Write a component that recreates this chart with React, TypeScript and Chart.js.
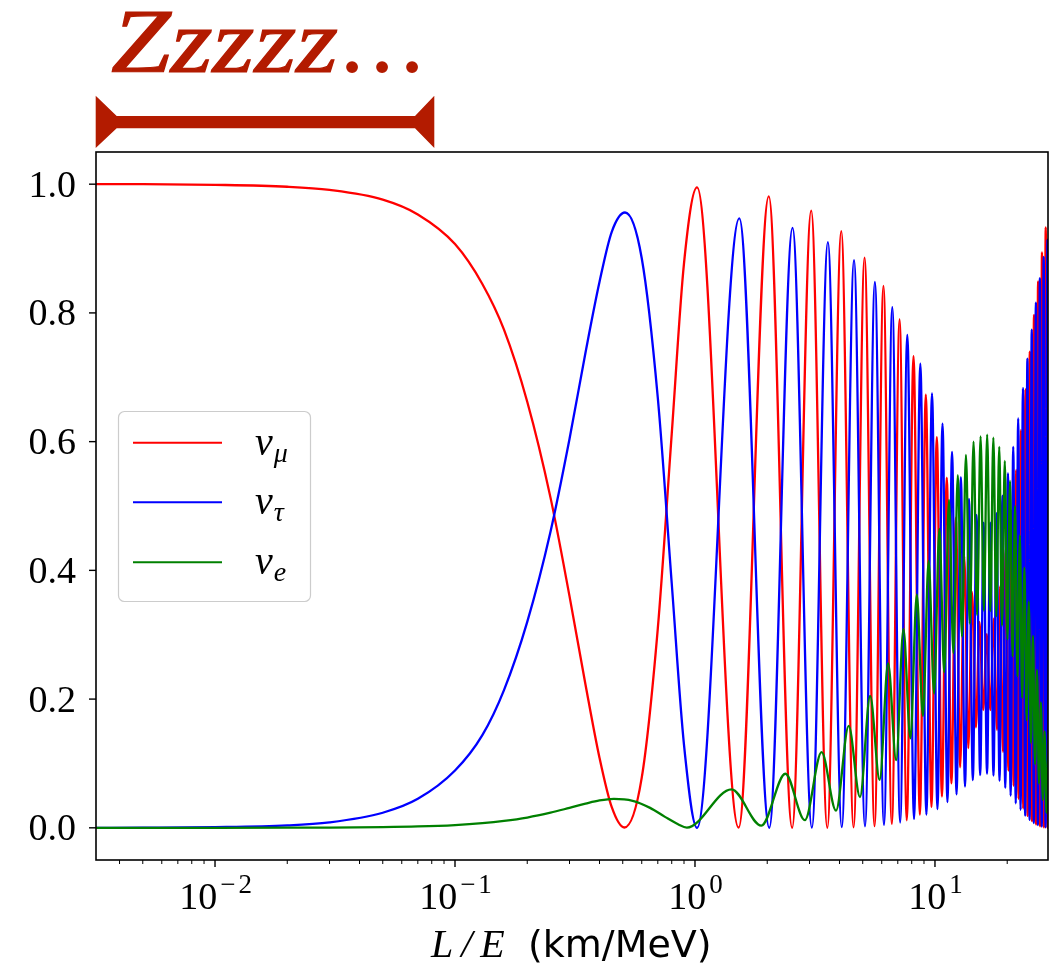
import React, { useEffect, useRef } from "react";
import { Chart, registerables } from "chart.js";

Chart.register(...registerables);

// ---------- axis ranges ----------
const X_MIN = 0.003192;
const X_MAX = 29.58;
const Y_MIN = -0.05;
const Y_MAX = 1.05;

// ---------- nu_mu (red) ----------
const numuX = [
  0.00316, 0.005, 0.01, 0.02, 0.03, 0.05, 0.07, 0.1, 0.13, 0.16, 0.2, 0.25, 0.3, 0.35, 0.4, 0.45, 0.508, 0.6, 0.7, 0.8, 0.9,
  1.02, 1.52, 2.03, 2.54, 3.05, 3.56, 4.07, 4.58, 5.09, 5.6,
  6.1, 6.61, 7.12, 7.63, 8.14, 8.65, 9.16, 9.67, 10.18, 10.69,
  11.2, 11.71, 12.22, 12.74, 13.25, 13.77, 14.28, 14.81, 15.33, 15.89,
  16.44, 17.01, 17.59, 18.14, 18.68, 19.2, 19.73, 20.24, 20.76, 21.27,
  21.79, 22.3, 22.81, 23.32, 23.83, 24.34, 24.85, 25.36, 25.87, 26.38,
  26.9, 27.41, 27.92, 28.43, 28.94, 29.43, 29.94, 30.43, 30.95, 31.44, 31.96,
];
const numuY = [
  1.0, 1.0, 0.999, 0.996, 0.991, 0.976, 0.953, 0.907, 0.845, 0.774, 0.662, 0.513, 0.36, 0.222, 0.109, 0.032, 0.0005, 0.078, 0.31, 0.612, 0.877,
  0.995, 0.0003, 0.981, 0.0001, 0.959, 0.0001, 0.927, 0.0008, 0.886, 0.0026,
  0.842, 0.006, 0.79, 0.0117, 0.733, 0.0204, 0.673, 0.0324, 0.607, 0.0486,
  0.544, 0.069, 0.482, 0.0941, 0.422, 0.1237, 0.366, 0.156, 0.32, 0.183,
  0.301, 0.183, 0.325, 0.152, 0.375, 0.118, 0.433, 0.089, 0.493, 0.0652,
  0.556, 0.0452, 0.618, 0.0299, 0.681, 0.0185, 0.74, 0.0104, 0.797, 0.0052,
  0.849, 0.0021, 0.894, 0.0006, 0.933, 0.0001, 0.962, 0.0001, 0.984, 0.0003, 0.993,
];

// ---------- nu_tau (blue) ----------
const nutauX = [
  0.00316, 0.005, 0.01, 0.02, 0.03, 0.05, 0.07, 0.1, 0.13, 0.16, 0.2, 0.25, 0.3, 0.35, 0.4, 0.45, 0.511, 0.6, 0.7, 0.8, 0.9,
  1.02, 1.53, 2.04, 2.55, 3.07, 3.58, 4.09, 4.6, 5.11, 5.62,
  6.13, 6.64, 7.16, 7.67, 8.18, 8.69, 9.21, 9.72, 10.24, 10.75,
  11.27, 11.78, 12.3, 12.82, 13.34, 13.86, 14.38, 14.9, 15.43, 15.95,
  16.48, 17.0, 17.53, 18.06, 18.58, 19.11, 19.63, 20.15, 20.67, 21.19,
  21.71, 22.22, 22.74, 23.26, 23.77, 24.28, 24.8, 25.31, 25.82, 26.34,
  26.85, 27.36, 27.87, 28.38, 28.9, 29.41, 29.92, 30.42, 30.94, 31.44, 31.96,
];
const nutauY = [
  0.0, 0.0002, 0.001, 0.0037, 0.0085, 0.0234, 0.045, 0.089, 0.144, 0.214, 0.32, 0.46, 0.604, 0.739, 0.848, 0.926, 0.956, 0.885, 0.668, 0.38, 0.129,
  0.0, 0.947, 0.0001, 0.932, 0.0003, 0.91, 0.001, 0.882, 0.0023, 0.848,
  0.0046, 0.809, 0.0083, 0.766, 0.0135, 0.721, 0.0205, 0.675, 0.029, 0.628,
  0.04, 0.584, 0.052, 0.545, 0.064, 0.511, 0.074, 0.486, 0.082, 0.474,
  0.084, 0.474, 0.081, 0.489, 0.073, 0.516, 0.062, 0.551, 0.05, 0.592,
  0.038, 0.636, 0.028, 0.683, 0.019, 0.729, 0.0124, 0.774, 0.0075, 0.816,
  0.0042, 0.854, 0.002, 0.887, 0.0008, 0.914, 0.0002, 0.936, 0.0001, 0.95, 0.0,
];

// ---------- nu_e (green) ----------
const nueX = [
  0.00316, 0.01, 0.02, 0.03, 0.05, 0.07, 0.1, 0.13, 0.16, 0.2, 0.25, 0.3, 0.35, 0.4, 0.459, 0.55, 0.65, 0.75, 0.85, 0.925,
  1.42, 1.89, 2.38, 2.87, 3.37, 3.87, 4.37, 4.87, 5.37, 5.88,
  6.38, 6.89, 7.39, 7.9, 8.4, 8.91, 9.41, 9.92, 10.43, 10.93,
  11.44, 11.94, 12.45, 12.96, 13.46, 13.97, 14.48, 14.98, 15.49, 15.99,
  16.5, 17.01, 17.51, 18.02, 18.53, 19.03, 19.54, 20.05, 20.55, 21.06,
  21.56, 22.07, 22.58, 23.08, 23.59, 24.09, 24.6, 25.11, 25.61, 26.12,
  26.62, 27.12, 27.63, 28.13, 28.63, 29.13, 29.63, 30.13, 30.63, 31.12, 31.62,
];
const nueY = [
  0.0, 0.00004, 0.00017, 0.0004, 0.0011, 0.0021, 0.0043, 0.0072, 0.0107, 0.016, 0.0235, 0.031, 0.0375, 0.0425, 0.045, 0.042, 0.031, 0.017, 0.0055, 0.0003,
  0.0598, 0.0034, 0.084, 0.0119, 0.1175, 0.0268, 0.1584, 0.0479, 0.2048, 0.0745,
  0.2556, 0.1053, 0.3086, 0.139, 0.3622, 0.174, 0.4146, 0.2087, 0.4645, 0.2417,
  0.5093, 0.2716, 0.548, 0.2972, 0.5793, 0.3173, 0.6, 0.3307, 0.608, 0.3374,
  0.611, 0.3366, 0.606, 0.3286, 0.592, 0.3141, 0.57, 0.2928, 0.539, 0.2663,
  0.5, 0.2355, 0.4545, 0.2019, 0.4044, 0.167, 0.3517, 0.1319, 0.298, 0.0987,
  0.2452, 0.0688, 0.195, 0.0432, 0.1498, 0.0234, 0.1102, 0.0105, 0.0768, 0.0021, 0.054,
];

// ---------- labels / ticks ----------
const seriesSubscripts = ["μ", "τ", "e"];
const seriesColors = ["#ff0000", "#0000ff", "#008000"];
const yTickValues = [0, 0.2, 0.4, 0.6, 0.8, 1.0];
const yTickLabels = ["0.0", "0.2", "0.4", "0.6", "0.8", "1.0"];
const xMajorValues = [0.01, 0.1, 1, 10];
const xMajorExponents = ["−2", "−1", "0", "1"];
const xMinorValues = [
  0.004, 0.005, 0.006, 0.007, 0.008, 0.009,
  0.02, 0.03, 0.04, 0.05, 0.06, 0.07, 0.08, 0.09,
  0.2, 0.3, 0.4, 0.5, 0.6, 0.7, 0.8, 0.9,
  2, 3, 4, 5, 6, 7, 8, 9, 20,
];
const xTitleVar = "L/E";
const xTitleUnit = "(km/MeV)";
const annotationWord = "Zzzzz";
const annotationDots = "...";
const ANNOT_COLOR = "#b31b00";
const LINE_W = 2.3;

const toPoints = (xs: number[], ys: number[]) => xs.map((x, i) => ({ x, y: ys[i] }));

const SERIF = "'Liberation Serif', 'DejaVu Serif', serif";

const decorPlugin = {
  id: "decor",
  afterDraw(chart: any) {
    const ctx: CanvasRenderingContext2D = chart.ctx;
    const { left, right, top, bottom } = chart.chartArea;
    const xs = chart.scales.x;
    const ys = chart.scales.y;
    ctx.save();

    // spines
    ctx.strokeStyle = "#000";
    ctx.lineWidth = 1.6;
    ctx.strokeRect(left, top, right - left, bottom - top);

    // y ticks + labels
    ctx.fillStyle = "#000";
    ctx.lineWidth = 1.4;
    ctx.font = `38px ${SERIF}`;
    ctx.textAlign = "right";
    ctx.textBaseline = "alphabetic";
    yTickValues.forEach((v, i) => {
      const py = ys.getPixelForValue(v);
      ctx.beginPath();
      ctx.moveTo(left - 7, py);
      ctx.lineTo(left, py);
      ctx.stroke();
      ctx.fillText(yTickLabels[i], left - 20, py + 12.5);
    });

    // x minor ticks
    ctx.lineWidth = 1.0;
    xMinorValues.forEach((v) => {
      const px = xs.getPixelForValue(v);
      if (px < left - 0.5 || px > right + 0.5) return;
      ctx.beginPath();
      ctx.moveTo(px, bottom);
      ctx.lineTo(px, bottom + 4);
      ctx.stroke();
    });

    // x major ticks + labels
    ctx.lineWidth = 1.4;
    ctx.textAlign = "left";
    xMajorValues.forEach((v, i) => {
      const px = xs.getPixelForValue(v);
      ctx.beginPath();
      ctx.moveTo(px, bottom);
      ctx.lineTo(px, bottom + 7);
      ctx.stroke();
      ctx.font = `38px ${SERIF}`;
      const wb = ctx.measureText("10").width;
      ctx.font = `27px ${SERIF}`;
      (ctx as any).letterSpacing = "3px";
      const we = ctx.measureText(xMajorExponents[i]).width;
      const total = wb + 3 + we;
      const x0 = px - total / 2 + 2;
      ctx.fillText(xMajorExponents[i], x0 + wb + 3, 893);
      (ctx as any).letterSpacing = "0px";
      ctx.font = `38px ${SERIF}`;
      ctx.fillText("10", x0, 909);
    });

    // x title
    ctx.font = `italic 40px ${SERIF}`;
    (ctx as any).letterSpacing = "8px";
    ctx.fillText(xTitleVar, 431, 957);
    (ctx as any).letterSpacing = "0px";
    ctx.font = "38px 'DejaVu Sans', sans-serif";
    ctx.fillText(xTitleUnit, 528, 957);

    // legend
    const lx = 118.5, ly = 411.5, lw = 192, lh = 190, r = 6;
    ctx.beginPath();
    ctx.moveTo(lx + r, ly);
    ctx.lineTo(lx + lw - r, ly);
    ctx.arcTo(lx + lw, ly, lx + lw, ly + r, r);
    ctx.lineTo(lx + lw, ly + lh - r);
    ctx.arcTo(lx + lw, ly + lh, lx + lw - r, ly + lh, r);
    ctx.lineTo(lx + r, ly + lh);
    ctx.arcTo(lx, ly + lh, lx, ly + lh - r, r);
    ctx.lineTo(lx, ly + r);
    ctx.arcTo(lx, ly, lx + r, ly, r);
    ctx.closePath();
    ctx.fillStyle = "rgba(255,255,255,0.8)";
    ctx.fill();
    ctx.strokeStyle = "#cccccc";
    ctx.lineWidth = 1.2;
    ctx.stroke();
    const rowY = [442.7, 502.3, 562.3];
    seriesSubscripts.forEach((sub, i) => {
      const y = rowY[i];
      ctx.strokeStyle = seriesColors[i];
      ctx.lineWidth = 2;
      ctx.beginPath();
      ctx.moveTo(133, y);
      ctx.lineTo(222, y);
      ctx.stroke();
      ctx.fillStyle = "#000";
      ctx.font = `italic 40px ${SERIF}`;
      ctx.fillText("ν", 255, y + 12);
      const wn = ctx.measureText("ν").width;
      ctx.font = `italic 28px ${SERIF}`;
      ctx.fillText(sub, 255 + wn + 1, y + 19);
    });

    // annotation "Zzzzz..." and bracket
    ctx.fillStyle = ANNOT_COLOR;
    ctx.strokeStyle = ANNOT_COLOR;
    ctx.lineWidth = 1.2;
    ctx.font = `italic 92px ${SERIF}`;
    const wz = ctx.measureText(annotationWord).width;
    ctx.save();
    ctx.translate(111, 72);
    ctx.scale(227 / wz, 1);
    ctx.fillText(annotationWord, 0, 0);
    ctx.strokeText(annotationWord, 0, 0);
    ctx.restore();
    ctx.font = `italic 100px ${SERIF}`;
    (ctx as any).letterSpacing = "5px";
    ctx.fillText(annotationDots, 342, 72);
    (ctx as any).letterSpacing = "0px";

    ctx.beginPath();
    ctx.moveTo(95.7, 95.7);
    ctx.lineTo(116.7, 116);
    ctx.lineTo(415, 116);
    ctx.lineTo(434.3, 95.7);
    ctx.lineTo(434.3, 148);
    ctx.lineTo(415, 128.3);
    ctx.lineTo(116.7, 128.3);
    ctx.lineTo(95.7, 148);
    ctx.closePath();
    ctx.fill();

    ctx.restore();
  },
};

export default function App() {
  const ref = useRef<HTMLCanvasElement>(null);
  useEffect(() => {
    document.body.style.margin = "0";
    const canvas = ref.current!;
    const chart = new Chart(canvas, {
      type: "line",
      data: {
        datasets: [
          {
            label: "nu_mu",
            data: toPoints(numuX, numuY),
            borderColor: seriesColors[0],
            borderWidth: LINE_W,
            pointRadius: 0,
            fill: false,
            cubicInterpolationMode: "monotone",
            order: 3,
          },
          {
            label: "nu_tau",
            data: toPoints(nutauX, nutauY),
            borderColor: seriesColors[1],
            borderWidth: LINE_W,
            pointRadius: 0,
            fill: false,
            cubicInterpolationMode: "monotone",
            order: 2,
          },
          {
            label: "nu_e",
            data: toPoints(nueX, nueY),
            borderColor: seriesColors[2],
            borderWidth: LINE_W,
            pointRadius: 0,
            fill: false,
            cubicInterpolationMode: "monotone",
            order: 1,
          },
        ],
      },
      options: {
        animation: false,
        responsive: false,
        maintainAspectRatio: false,
        devicePixelRatio: 1,
        layout: { padding: { top: 152, left: 0, right: 1, bottom: 0 } },
        plugins: { legend: { display: false }, tooltip: { enabled: false } },
        scales: {
          x: {
            type: "logarithmic",
            min: X_MIN,
            max: X_MAX,
            ticks: { display: false },
            grid: { display: false },
            border: { display: false },
            afterFit: (s: any) => {
              s.height = 107;
            },
          },
          y: {
            type: "linear",
            min: Y_MIN,
            max: Y_MAX,
            ticks: { display: false },
            grid: { display: false },
            border: { display: false },
            afterFit: (s: any) => {
              s.width = 96;
            },
          },
        },
      },
      plugins: [decorPlugin],
    } as any);
    return () => chart.destroy();
  }, []);
  return (
    <div style={{ position: "fixed", left: 0, top: 0, width: 1049, height: 967, overflow: "hidden", background: "#fff" }}>
      <canvas ref={ref} width={1049} height={967} style={{ display: "block", width: 1049, height: 967 }} />
    </div>
  );
}
